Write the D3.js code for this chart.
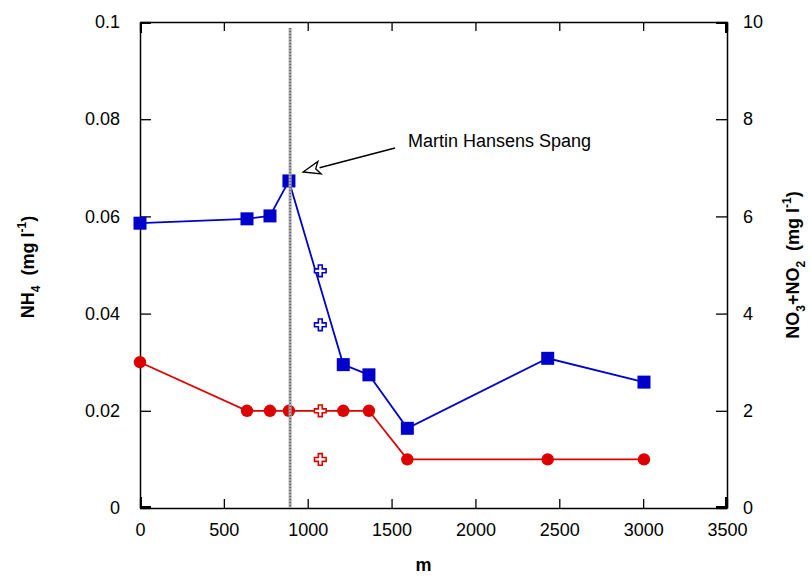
<!DOCTYPE html>
<html>
<head>
<meta charset="utf-8">
<script src="https://cdn.jsdelivr.net/npm/d3@7"></script>
<style>
  body { margin: 0; background: #fff; }
  text { font-family: Arial, "Liberation Sans", sans-serif; }
</style>
</head>
<body>
<svg id="chart" width="811" height="576"></svg>
<script>
// distance along the stream (m)
const distance = [0, 638, 775, 888, 1212, 1365, 1594, 2431, 3005];
const nh4 = [0.03, 0.02, 0.02, 0.02, 0.02, 0.02, 0.01, 0.01, 0.01];
const no3no2 = [5.86, 5.95, 6.01, 6.73, 2.95, 2.74, 1.64, 3.08, 2.59];

// extra samples at the tributary (open crosses)
const extraDistance = [1075, 1075];
const nh4Extra = [0.02, 0.01];
const no3Extra = [4.88, 3.77];

const xTicks = [0, 500, 1000, 1500, 2000, 2500, 3000, 3500];
const leftTicks = [0, 0.02, 0.04, 0.06, 0.08, 0.1];
const rightTicks = [0, 2, 4, 6, 8, 10];

const spangX = 895;
const spangLabel = "Martin Hansens Spang";

const blue = "#0000cc", red = "#dd0000";
const m = {left: 140, right: 727, top: 22, bottom: 508};

const svg = d3.select("#chart");
const x = d3.scaleLinear().domain([0, 3500]).range([m.left, m.right]);
const yL = d3.scaleLinear().domain([0, 0.1]).range([m.bottom, m.top]);
const yR = d3.scaleLinear().domain([0, 10]).range([m.bottom, m.top]);

const fmt = d3.format("~g");

function styleAxis(g) {
  g.select(".domain").attr("stroke", "#000").attr("stroke-width", 1.5);
  g.selectAll(".tick line").attr("stroke", "#000").attr("stroke-width", 1.3);
  g.selectAll("text").attr("font-size", 18).attr("fill", "#000")
    .attr("font-family", "Arial, 'Liberation Sans', sans-serif");
}

svg.append("g").attr("transform", `translate(0,${m.bottom})`)
  .call(d3.axisBottom(x).tickValues(xTicks).tickFormat(fmt).tickSize(-9).tickSizeOuter(0).tickPadding(15))
  .call(styleAxis);
svg.append("g").attr("transform", `translate(0,${m.top})`)
  .call(d3.axisTop(x).tickValues(xTicks).tickFormat("").tickSize(-9).tickSizeOuter(0))
  .call(styleAxis);
svg.append("g").attr("transform", `translate(${m.left},0)`)
  .call(d3.axisLeft(yL).tickValues(leftTicks).tickFormat(fmt).tickSize(-11).tickSizeOuter(0).tickPadding(20))
  .call(styleAxis);
svg.append("g").attr("transform", `translate(${m.right},0)`)
  .call(d3.axisRight(yR).tickValues(rightTicks).tickFormat(fmt).tickSize(-11).tickSizeOuter(0).tickPadding(16))
  .call(styleAxis);

// thicker corners
[[m.left, m.top, 1, 1], [m.right, m.top, -1, 1], [m.left, m.bottom, 1, -1], [m.right, m.bottom, -1, -1]]
  .forEach(([cx, cy, sx, sy]) => {
    svg.append("path")
      .attr("d", `M${cx + sx * 11},${cy + sy * 1} H${cx + sx * 1} V${cy + sy * 11}`)
      .attr("fill", "none").attr("stroke", "#000").attr("stroke-width", 2);
  });

// lines
const nh4Pts = distance.map((d, i) => [d, nh4[i]]);
const no3Pts = distance.map((d, i) => [d, no3no2[i]]);

svg.append("path").datum(no3Pts)
  .attr("d", d3.line().x(d => x(d[0])).y(d => yR(d[1])))
  .attr("fill", "none").attr("stroke", blue).attr("stroke-width", 1.8);
svg.append("path").datum(nh4Pts)
  .attr("d", d3.line().x(d => x(d[0])).y(d => yL(d[1])))
  .attr("fill", "none").attr("stroke", red).attr("stroke-width", 1.8);

// markers
const sq = 13;
svg.selectAll("rect.no3").data(no3Pts).enter().append("rect")
  .attr("class", "no3")
  .attr("x", d => x(d[0]) - sq / 2).attr("y", d => yR(d[1]) - sq / 2)
  .attr("width", sq).attr("height", sq).attr("fill", blue);
svg.selectAll("circle.nh4").data(nh4Pts).enter().append("circle")
  .attr("class", "nh4")
  .attr("cx", d => x(d[0])).attr("cy", d => yL(d[1])).attr("r", 6.2).attr("fill", red);

const cross = d3.symbol().type(d3.symbolCross).size(75);
svg.selectAll("path.no3x").data(extraDistance.map((d, i) => [d, no3Extra[i]])).enter().append("path")
  .attr("class", "no3x")
  .attr("transform", d => `translate(${x(d[0])},${yR(d[1])})`)
  .attr("d", cross).attr("fill", "#fff").attr("stroke", blue).attr("stroke-width", 1.6);
svg.selectAll("path.nh4x").data(extraDistance.map((d, i) => [d, nh4Extra[i]])).enter().append("path")
  .attr("class", "nh4x")
  .attr("transform", d => `translate(${x(d[0])},${yL(d[1])})`)
  .attr("d", cross).attr("fill", "#fff").attr("stroke", red).attr("stroke-width", 1.6);

// tributary marker line
svg.append("line")
  .attr("x1", x(spangX)).attr("x2", x(spangX)).attr("y1", m.top + 6).attr("y2", m.bottom)
  .attr("stroke", "#a8a8a8").attr("stroke-width", 3);
svg.append("line")
  .attr("x1", x(spangX)).attr("x2", x(spangX)).attr("y1", m.top + 6).attr("y2", m.bottom)
  .attr("stroke", "#333").attr("stroke-width", 1).attr("stroke-dasharray", "1,2");

// annotation
const tip = [x(spangX) + 13, 172];
const tail = [395, 148];
const ang = Math.atan2(tail[1] - tip[1], tail[0] - tip[0]);
const hl = 17, hw = 6.5;
const bx = tip[0] + hl * Math.cos(ang), by = tip[1] + hl * Math.sin(ang);
svg.append("line")
  .attr("x1", tail[0]).attr("y1", tail[1]).attr("x2", bx).attr("y2", by)
  .attr("stroke", "#000").attr("stroke-width", 1.5);
svg.append("path")
  .attr("d", `M${tip[0]},${tip[1]} L${bx - hw * Math.sin(ang)},${by + hw * Math.cos(ang)} L${bx - 4 * Math.cos(ang)},${by - 4 * Math.sin(ang)} L${bx + hw * Math.sin(ang)},${by - hw * Math.cos(ang)} Z`)
  .attr("fill", "#fff").attr("stroke", "#000").attr("stroke-width", 1.3);
svg.append("text").attr("x", 408).attr("y", 147).attr("font-size", 18).text(spangLabel);

// axis titles
svg.append("text").attr("x", x(1690)).attr("y", 571)
  .attr("text-anchor", "middle").attr("font-size", 18).attr("font-weight", "bold").text("m");

const lt = svg.append("text")
  .attr("transform", `translate(34,${(m.top + m.bottom) / 2 + 2}) rotate(-90)`)
  .attr("text-anchor", "middle").attr("font-size", 18).attr("font-weight", "bold");
lt.append("tspan").text("NH");
lt.append("tspan").attr("dy", 6).attr("font-size", 12).text("4");
lt.append("tspan").attr("dy", -6).attr("xml:space", "preserve").text("  (mg l");
lt.append("tspan").attr("dy", -8).attr("font-size", 12).text("-1");
lt.append("tspan").attr("dy", 8).text(")");

const rt = svg.append("text")
  .attr("transform", `translate(799,${(m.top + m.bottom) / 2}) rotate(-90)`)
  .attr("text-anchor", "middle").attr("font-size", 18).attr("font-weight", "bold");
rt.append("tspan").text("NO");
rt.append("tspan").attr("dy", 6).attr("font-size", 12).text("3");
rt.append("tspan").attr("dy", -6).text("+NO");
rt.append("tspan").attr("dy", 6).attr("font-size", 12).text("2");
rt.append("tspan").attr("dy", -6).attr("xml:space", "preserve").text("  (mg l");
rt.append("tspan").attr("dy", -8).attr("font-size", 12).text("-1");
rt.append("tspan").attr("dy", 8).text(")");
</script>
</body>
</html>
